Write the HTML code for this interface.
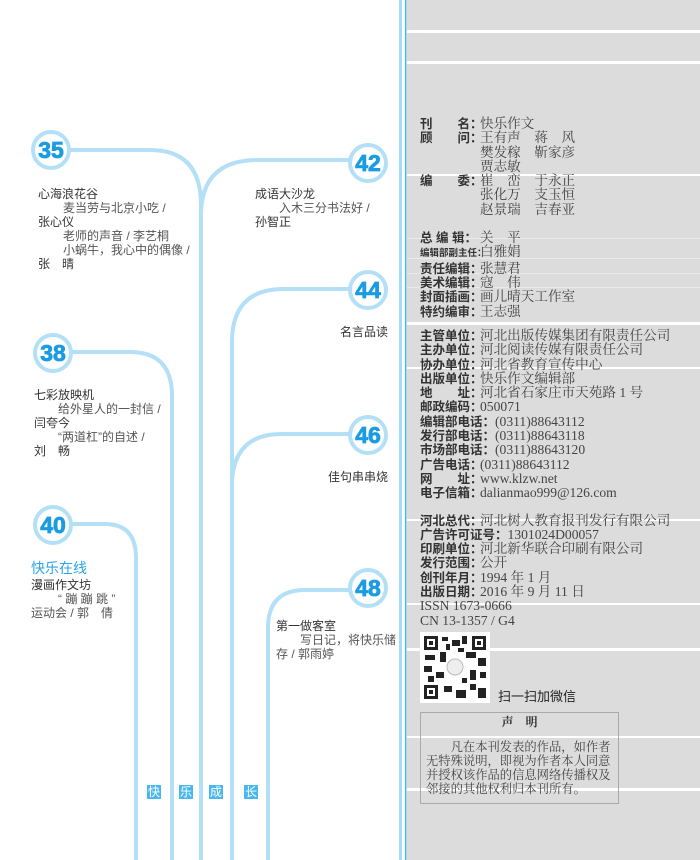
<!DOCTYPE html>
<html><head><meta charset="utf-8"><style>
html,body{margin:0;padding:0;background:#fff;}
body{width:700px;height:860px;position:relative;overflow:hidden;font-family:"Liberation Sans","Noto Sans CJK SC",sans-serif;}
.t{position:absolute;white-space:nowrap;font-size:12px;line-height:14px;color:#333;}
.g{color:#555;}
.r{position:absolute;white-space:nowrap;font-size:12.5px;line-height:14.3px;color:#333;}
.r b{display:inline-block;width:60px;font-weight:bold;font-family:"Liberation Sans","Noto Sans CJK SC",sans-serif;color:#333;}
.r span{font-family:"Liberation Serif","Noto Serif CJK SC",serif;font-size:13.6px;color:#444;}
.k{position:absolute;top:785px;width:14px;height:14px;background:#4ab8ee;color:#fff;font-size:12px;line-height:14px;text-align:center;}
</style></head><body>
<svg width="700" height="860" style="position:absolute;left:0;top:0">
<rect x="407" y="0" width="293" height="860" fill="#dcdcdc"/>
<g fill="#fff">
<rect x="407" y="30" width="293" height="3"/><rect x="407" y="61" width="293" height="3"/>
<rect x="407" y="174" width="293" height="2"/><rect x="407" y="322" width="293" height="3"/>
<rect x="407" y="367" width="293" height="2"/><rect x="407" y="519" width="293" height="2"/>
<rect x="407" y="603" width="293" height="2"/><rect x="407" y="648" width="293" height="3"/>
<rect x="407" y="736" width="293" height="2"/><rect x="407" y="788" width="293" height="3"/>
</g>
<g fill="#eaeaea"><rect x="407" y="238" width="293" height="1"/><rect x="407" y="258" width="293" height="1"/><rect x="407" y="273" width="293" height="1"/><rect x="407" y="287" width="293" height="1"/></g>
<rect x="399" y="0" width="3" height="860" fill="#a6dbf5"/>
<rect x="405" y="0" width="1.5" height="860" fill="#4ab8ee"/>
<g fill="none" stroke="#b3e0f7" stroke-width="4">
<path d="M70,150 H150 Q201,150 201,205 V860"/>
<path d="M349,160 H258 Q201,160 201,215"/>
<path d="M349,289 H284 Q232,289 232,342 V860"/>
<path d="M349,434 H282 Q232,434 232,486"/>
<path d="M72,352 H130 Q172,352 172,396 V860"/>
<path d="M71,524 H105 Q136,524 136,558 V860"/>
<path d="M349,590 H305 Q268,590 268,628 V860"/>
</g>
<g fill="#fff" stroke="#b3e0f7" stroke-width="4">
<circle cx="51" cy="150" r="18"/><circle cx="368" cy="163" r="18"/><circle cx="368" cy="290" r="18"/>
<circle cx="53" cy="353" r="18"/><circle cx="368" cy="435" r="18"/><circle cx="53" cy="525" r="18"/><circle cx="368" cy="588" r="18"/>
</g>
<g fill="#1b9ce2" font-family="Liberation Sans Narrow,Liberation Sans,sans-serif" font-weight="bold" font-size="23" text-anchor="middle" stroke="#1b9ce2" stroke-width="0.8">
<text x="51" y="158">35</text><text x="368" y="171">42</text><text x="368" y="298">44</text>
<text x="53" y="361">38</text><text x="368" y="443">46</text><text x="53" y="533">40</text><text x="368" y="596">48</text>
</g>
<rect x="420" y="632" width="70" height="71" fill="#fff"/>
<g fill="#222">
<rect x="424" y="636" width="14" height="14"/><rect x="472" y="636" width="14" height="14"/><rect x="424" y="685" width="14" height="14"/>
<rect x="442" y="637" width="6" height="4"/><rect x="452" y="640" width="8" height="6"/><rect x="462" y="636" width="5" height="8"/>
<rect x="425" y="655" width="10" height="5"/><rect x="440" y="652" width="6" height="10"/><rect x="466" y="652" width="10" height="6"/><rect x="478" y="658" width="8" height="8"/>
<rect x="424" y="666" width="8" height="6"/><rect x="436" y="672" width="8" height="6"/><rect x="470" y="670" width="6" height="10"/><rect x="480" y="672" width="6" height="6"/>
<rect x="444" y="686" width="8" height="6"/><rect x="456" y="690" width="10" height="8"/><rect x="470" y="684" width="6" height="6"/><rect x="478" y="688" width="8" height="10"/>
<rect x="446" y="644" width="4" height="6"/><rect x="458" y="648" width="6" height="4"/><rect x="428" y="676" width="6" height="6"/><rect x="462" y="678" width="5" height="5"/>
</g>
<g fill="#fff"><rect x="427" y="639" width="8" height="8"/><rect x="475" y="639" width="8" height="8"/><rect x="427" y="688" width="8" height="8"/></g>
<g fill="#222"><rect x="429" y="641" width="4" height="4"/><rect x="477" y="641" width="4" height="4"/><rect x="429" y="690" width="4" height="4"/></g>
<circle cx="455" cy="667" r="8" fill="#eee" stroke="#bbb"/>
<rect x="420.5" y="712.5" width="198" height="91" fill="none" stroke="#aaa"/>
</svg>

<div class="t" style="left:38px;top:187px">心海浪花谷</div>
<div class="t g" style="left:63px;top:201px">麦当劳与北京小吃 /</div>
<div class="t" style="left:38px;top:215px">张心仪</div>
<div class="t g" style="left:63px;top:229px">老师的声音 / 李艺桐</div>
<div class="t g" style="left:63px;top:243px">小蜗牛，我心中的偶像 /</div>
<div class="t" style="left:38px;top:257px">张　晴</div>

<div class="t" style="left:255px;top:187px">成语大沙龙</div>
<div class="t g" style="left:279px;top:201px">入木三分书法好 /</div>
<div class="t" style="left:255px;top:215px">孙智正</div>

<div class="t" style="left:340px;top:325px">名言品读</div>

<div class="t" style="left:34px;top:388px">七彩放映机</div>
<div class="t g" style="left:58px;top:402px">给外星人的一封信 /</div>
<div class="t" style="left:34px;top:416px">闫夸今</div>
<div class="t g" style="left:58px;top:430px">“两道杠”的自述 /</div>
<div class="t" style="left:34px;top:444px">刘　畅</div>

<div class="t" style="left:328px;top:470px">佳句串串烧</div>

<div class="t" style="left:31px;top:560px;font-size:14px;line-height:16px;color:#2aa5e6">快乐在线</div>
<div class="t" style="left:31px;top:578px">漫画作文坊</div>
<div class="t g" style="left:58px;top:592px">“ 蹦 蹦 跳 ”</div>
<div class="t g" style="left:31px;top:606px">运动会 / 郭　倩</div>

<div class="t" style="left:276px;top:619px">第一做客室</div>
<div class="t g" style="left:300px;top:633px">写日记，将快乐储</div>
<div class="t g" style="left:276px;top:647px">存 / 郭雨婷</div>

<div class="k" style="left:147px">快</div><div class="k" style="left:179px">乐</div><div class="k" style="left:209px">成</div><div class="k" style="left:244px">长</div>

<div class="r" style="left:420px;top:117px">
<div><b>刊　　名：</b><span>快乐作文</span></div>
<div><b>顾　　问：</b><span>王有声　蒋　风</span></div>
<div><b></b><span>樊发稼　靳家彦</span></div>
<div><b></b><span>贾志敏</span></div>
<div><b>编　　委：</b><span>崔　峦　于永正</span></div>
<div><b></b><span>张化万　支玉恒</span></div>
<div><b></b><span>赵景瑞　吉春亚</span></div>
<div style="height:14px"></div>
<div><b>总 编 辑：</b><span>关　平</span></div>
<div><b style="font-size:9.5px">编辑部副主任：</b><span>白雅娟</span></div>
<div><b>责任编辑：</b><span>张慧君</span></div>
<div><b>美术编辑：</b><span>寇　伟</span></div>
<div><b>封面插画：</b><span>画儿晴天工作室</span></div>
<div><b>特约编审：</b><span>王志强</span></div>
</div>

<div class="r" style="left:420px;top:329px">
<div><b>主管单位：</b><span>河北出版传媒集团有限责任公司</span></div>
<div><b>主办单位：</b><span>河北阅读传媒有限责任公司</span></div>
<div><b>协办单位：</b><span>河北省教育宣传中心</span></div>
<div><b>出版单位：</b><span>快乐作文编辑部</span></div>
<div><b>地　　址：</b><span>河北省石家庄市天苑路 1 号</span></div>
<div><b>邮政编码：</b><span>050071</span></div>
<div><b style="width:auto">编辑部电话：</b><span>(0311)88643112</span></div>
<div><b style="width:auto">发行部电话：</b><span>(0311)88643118</span></div>
<div><b style="width:auto">市场部电话：</b><span>(0311)88643120</span></div>
<div><b>广告电话：</b><span>(0311)88643112</span></div>
<div><b>网　　址：</b><span>www.klzw.net</span></div>
<div><b>电子信箱：</b><span>dalianmao999@126.com</span></div>
<div style="height:13px"></div>
<div><b>河北总代：</b><span>河北树人教育报刊发行有限公司</span></div>
<div><b style="width:auto">广告许可证号：</b><span>1301024D00057</span></div>
<div><b>印刷单位：</b><span>河北新华联合印刷有限公司</span></div>
<div><b>发行范围：</b><span>公开</span></div>
<div><b>创刊年月：</b><span>1994 年 1 月</span></div>
<div><b>出版日期：</b><span>2016 年 9 月 11 日</span></div>
<div><span>ISSN 1673-0666</span></div>
<div><span>CN 13-1357 / G4</span></div>
</div>

<div class="t" style="left:498px;top:690px;font-size:13px;color:#222">扫一扫加微信</div>
<div class="t" style="left:420px;top:715px;width:199px;text-align:center;font-weight:bold;font-family:'Liberation Serif','Noto Serif CJK SC',serif">声　明</div>
<div class="t" style="left:426px;top:740px;font-size:12.3px;line-height:14px;color:#444;font-family:'Liberation Serif','Noto Serif CJK SC',serif">
<div>　　凡在本刊发表的作品，如作者</div>
<div>无特殊说明，即视为作者本人同意</div>
<div>并授权该作品的信息网络传播权及</div>
<div>邻接的其他权利归本刊所有。</div>
</div>
</body></html>
